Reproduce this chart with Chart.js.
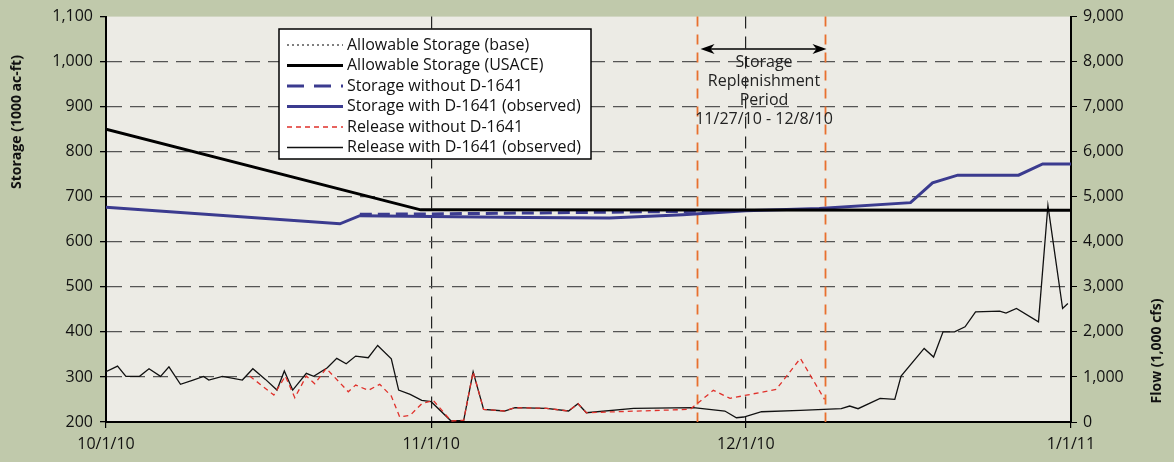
<!DOCTYPE html>
<html>
<head>
<meta charset="utf-8">
<script src="https://cdn.jsdelivr.net/npm/chart.js@4"></script>
<style>
  html, body { margin: 0; padding: 0; background: #c0c9ab; }
  #wrap { width: 1174px; height: 462px; position: relative; }
</style>
</head>
<body>
<div id="wrap"><canvas id="chart"></canvas></div>
<script>
// x values are days after 10/1/10
const tickDays = [0, 31, 61, 92];
const tickLabels = ['10/1/10', '11/1/10', '12/1/10', '1/1/11'];

// Allowable storage (1000 ac-ft)
const allowDays = [0, 30, 92];
const allowUsace = [850, 671, 670];
const allowBase = [850, 671, 670];

// Storage with D-1641 (observed)
const storObsDays = [0, 22.3, 24.2, 31, 40, 48, 55, 61, 68, 76.7, 78.8, 81.2, 87, 89.3, 92];
const storObs = [677, 640, 658, 656, 654, 653, 660, 669, 674, 687, 731, 748, 748, 773, 773];

// Storage without D-1641
const storNoDays = [24.2, 31, 45, 57, 61];
const storNo = [661, 662, 665, 668, 670];

// Release with D-1641 (observed), 1,000 cfs
const relObsDays = [0, 1.1, 1.9, 3.2, 4.1, 5.2, 6.0, 7.1, 8.3, 9.3, 9.8, 11.1, 13.0, 14.0, 15.2, 16.3, 17.0, 17.8,
  19.1, 19.8, 21.1, 22.0, 22.9, 23.8, 25.0, 25.9, 27.2, 27.9, 29.0, 30.1, 31.0, 32.9, 34.1, 35.0, 36.0, 38.0,
  39.0, 42.0, 44.1, 45.0, 45.8, 50.3, 56.0, 59.0, 60.1, 60.8, 62.5, 66.2, 70.1, 70.9, 71.7, 73.8, 75.2, 75.8,
  78.0, 78.9, 79.8, 80.9, 81.9, 82.9, 85.2, 85.8, 86.8, 88.9, 89.8, 91.2, 91.7];
const relObs = [1115, 1241, 1013, 1013, 1182, 1013, 1226, 836, 931, 1013, 931, 1013, 931, 1182, 946, 709, 1131, 709,
  1080, 1013, 1204, 1412, 1293, 1463, 1426, 1700, 1403, 709, 614, 481, 450, 22, 38, 1115, 281, 244,
  317, 304, 244, 406, 206, 304, 317, 244, 95, 111, 228, 259, 295, 355, 295, 525, 503, 1020,
  1634, 1441, 2002, 2002, 2113, 2445, 2461, 2416, 2520, 2224, 4811, 2520, 2632];

// Release without D-1641
const relNoDays = [13.7, 16.0, 17.1, 18.0, 19.1, 19.9, 21.0, 23.1, 23.8, 25.0, 26.1, 27.2, 28.0, 29.0, 30.1, 31.2,
  32.9, 34.1, 35.0, 36.0, 38.0, 39.0, 42.0, 44.1, 45.0, 45.8, 55.7, 57.9, 59.5, 63.9, 66.2, 68.5];
const relNo = [1020, 599, 1020, 539, 1020, 849, 1190, 672, 820, 703, 836, 576, 111, 148, 406, 481,
  22, 38, 1115, 281, 244, 317, 304, 244, 406, 206, 281, 703, 525, 725, 1412, 503];

// Storage replenishment period (11/27/10 - 12/8/10)
const replenDays = [56.3, 68.5];

const FONT = '"Open Sans", Lato, sans-serif';

function pts(xs, ys) {
    return xs.map((x, i) => ({ x: x, y: ys[i] }));
}

const BLUE = '#3b3b8f';

const datasets = [
    { label: 'Allowable Storage (base)', data: pts(allowDays, allowBase), yAxisID: 'y',
      borderColor: '#000', borderWidth: 1, borderDash: [2, 2], legendDash: [2, 3], legendWidth: 1 },
    { label: 'Allowable Storage (USACE)', data: pts(allowDays, allowUsace), yAxisID: 'y',
      borderColor: '#000', borderWidth: 3 },
    { label: 'Storage without D-1641', data: pts(storNoDays, storNo), yAxisID: 'y',
      borderColor: BLUE, borderWidth: 3, borderDash: [12, 6], legendDash: [17, 10] },
    { label: 'Storage with D-1641 (observed)', data: pts(storObsDays, storObs), yAxisID: 'y',
      borderColor: BLUE, borderWidth: 3 },
    { label: 'Release without D-1641', data: pts(relNoDays, relNo), yAxisID: 'y1',
      borderColor: '#e0302a', borderWidth: 1.3, borderDash: [5, 4] },
    { label: 'Release with D-1641 (observed)', data: pts(relObsDays, relObs), yAxisID: 'y1',
      borderColor: '#111', borderWidth: 1.3 }
];
datasets.forEach(ds => {
    ds.pointRadius = 0;
    ds.tension = 0;
    ds.fill = false;
});

// plot area background + custom text
const decorPlugin = {
    id: 'decor',
    beforeDraw(chart) {
        const a = chart.chartArea;
        const ctx = chart.ctx;
        ctx.save();
        ctx.fillStyle = '#ecebe5';
        ctx.fillRect(a.left, a.top, a.right - a.left, a.bottom - a.top);
        ctx.restore();
    },
    beforeDatasetsDraw(chart) {
        // replenishment period lines
        const a = chart.chartArea;
        const ctx = chart.ctx;
        const xs = chart.scales.x;
        ctx.save();
        ctx.strokeStyle = '#e8702f';
        ctx.lineWidth = 1.8;
        ctx.setLineDash([10, 8]);
        replenDays.forEach(d => {
            const px = Math.round(xs.getPixelForValue(d)) + 0.5;
            ctx.beginPath();
            ctx.moveTo(px, a.top);
            ctx.lineTo(px, a.bottom);
            ctx.stroke();
        });
        ctx.restore();
    },
    afterDraw(chart) {
        const ctx = chart.ctx;
        const xs = chart.scales.x;
        ctx.save();

        // axis titles
        ctx.fillStyle = '#111';
        ctx.font = 'bold 14px ' + FONT;
        ctx.textAlign = 'center';
        ctx.textBaseline = 'middle';
        ctx.save();
        ctx.translate(17, 122);
        ctx.rotate(-Math.PI / 2);
        ctx.fillText('Storage (1000 ac-ft)', 0, 0);
        ctx.restore();
        ctx.save();
        ctx.translate(1157, 351);
        ctx.rotate(-Math.PI / 2);
        ctx.fillText('Flow (1,000 cfs)', 0, 0);
        ctx.restore();

        // double arrow
        const x1 = xs.getPixelForValue(replenDays[0]) + 4;
        const x2 = xs.getPixelForValue(replenDays[1]) + 2;
        const ay = 49;
        ctx.strokeStyle = '#000';
        ctx.fillStyle = '#000';
        ctx.lineWidth = 1.5;
        ctx.beginPath();
        ctx.moveTo(x1 + 6, ay);
        ctx.lineTo(x2 - 6, ay);
        ctx.stroke();
        [[x1, 1], [x2, -1]].forEach(([x, s]) => {
            ctx.beginPath();
            ctx.moveTo(x, ay);
            ctx.lineTo(x + s * 14, ay - 5);
            ctx.lineTo(x + s * 10, ay);
            ctx.lineTo(x + s * 14, ay + 5);
            ctx.closePath();
            ctx.fill();
        });

        // annotation text
        ctx.fillStyle = '#222';
        ctx.font = '16px ' + FONT;
        ctx.textAlign = 'center';
        const tx = 764;
        ['Storage', 'Replenishment', 'Period', '11/27/10 - 12/8/10'].forEach((t, i) => {
            ctx.fillText(t, tx, 62 + i * 19);
        });

        // legend box
        const lx = 279, ly = 29, lw = 312, lh = 130;
        ctx.fillStyle = '#fff';
        ctx.fillRect(lx, ly, lw, lh);
        ctx.strokeStyle = '#000';
        ctx.lineWidth = 1.5;
        ctx.setLineDash([]);
        ctx.strokeRect(lx, ly, lw, lh);
        ctx.font = '16px ' + FONT;
        ctx.textAlign = 'left';
        chart.data.datasets.forEach((ds, i) => {
            const y = ly + 16 + i * 20.5;
            ctx.strokeStyle = ds.borderColor;
            ctx.lineWidth = ds.legendWidth || ds.borderWidth;
            ctx.setLineDash(ds.legendDash || ds.borderDash || []);
            ctx.beginPath();
            ctx.moveTo(lx + 8, y);
            ctx.lineTo(lx + 64, y);
            ctx.stroke();
            ctx.fillStyle = '#111';
            ctx.fillText(ds.label, lx + 68, y);
        });
        ctx.restore();
    }
};

new Chart(document.getElementById('chart'), {
    type: 'line',
    data: { datasets: datasets },
    plugins: [decorPlugin],
    options: {
        responsive: true,
        maintainAspectRatio: false,
        animation: false,
        layout: { padding: { top: 15, left: 0, right: 0, bottom: 0 } },
        plugins: {
            legend: { display: false },
            tooltip: { enabled: false }
        },
        scales: {
            x: {
                type: 'linear',
                min: 0,
                max: 92,
                afterBuildTicks(scale) {
                    scale.ticks = tickDays.map(v => ({ value: v }));
                },
                afterFit(scale) { scale.height = 40; },
                ticks: {
                    autoSkip: false,
                    maxRotation: 0,
                    padding: 7,
                    color: '#111',
                    font: { family: FONT, size: 16 },
                    callback: function(value) {
                        const i = tickDays.indexOf(value);
                        return i >= 0 ? tickLabels[i] : '';
                    }
                },
                grid: {
                    color: ctx => (ctx.tick && (ctx.tick.value === 0 || ctx.tick.value === 92)) ? 'rgba(0,0,0,0)' : '#222',
                    lineWidth: 1.2,
                    tickColor: '#000',
                    tickLength: 6,
                    tickBorderDash: []
                },
                border: { color: '#000', width: 2, dash: [12, 8] }
            },
            y: {
                position: 'left',
                min: 200,
                max: 1100,
                afterFit(scale) { scale.width = 106; },
                ticks: {
                    stepSize: 100,
                    padding: 7,
                    color: '#111',
                    font: { family: FONT, size: 16 },
                    callback: value => value.toLocaleString('en-US')
                },
                grid: {
                    color: ctx => (ctx.tick && (ctx.tick.value === 1100 || ctx.tick.value === 200)) ? 'rgba(0,0,0,0)' : '#555',
                    lineWidth: 1.3,
                    tickColor: '#000',
                    tickLength: 6,
                    tickBorderDash: []
                },
                border: { color: '#000', width: 2, dash: [15, 8] }
            },
            y1: {
                position: 'right',
                min: 0,
                max: 9000,
                afterFit(scale) { scale.width = 103; },
                ticks: {
                    stepSize: 1000,
                    padding: 6,
                    color: '#111',
                    font: { family: FONT, size: 16 },
                    callback: value => value.toLocaleString('en-US')
                },
                grid: {
                    drawOnChartArea: false,
                    tickColor: '#000',
                    tickLength: 6
                },
                border: { color: '#000', width: 2 }
            }
        }
    }
});
</script>
</body>
</html>
